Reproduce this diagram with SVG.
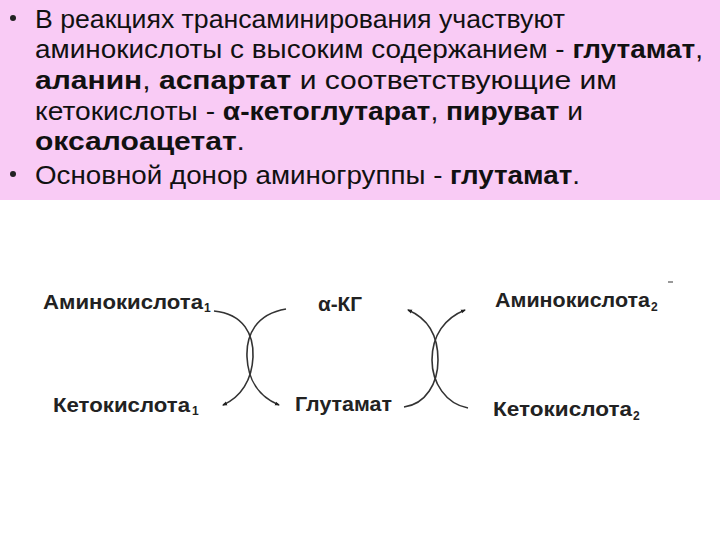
<svg xmlns="http://www.w3.org/2000/svg" width="720" height="540" viewBox="0 0 720 540">
<style>
.t{font-family:"Liberation Sans",Arial,sans-serif;font-size:26px;fill:#111}
.b{font-weight:bold}
.l{font-family:"Liberation Sans",Arial,sans-serif;font-size:21px;font-weight:bold;fill:#222}
.s{font-family:"Liberation Sans",Arial,sans-serif;font-size:12px;font-weight:bold;fill:#222}
.c{fill:none;stroke:#333;stroke-width:1.6}
</style>
<defs>
<marker id="ah" viewBox="0 0 10 10" refX="8" refY="5" markerWidth="5" markerHeight="5" orient="auto" markerUnits="userSpaceOnUse">
<path d="M0,1 L10,5 L0,9 Z" fill="#222"/>
</marker>
</defs>
<rect width="720" height="540" fill="#ffffff"/>
<g id="textbox">
<rect x="0" y="0" width="720" height="200" fill="#F9CBF5"/>
<circle cx="13" cy="18" r="3" fill="#222"/>
<text class="t" x="35" y="28" textLength="530" lengthAdjust="spacingAndGlyphs">В реакциях трансаминирования участвуют</text>
<text class="t" x="35" y="58" textLength="668" lengthAdjust="spacingAndGlyphs">аминокислоты с высоким содержанием - <tspan class="b">глутамат</tspan>,</text>
<text class="t" x="35" y="89" textLength="582" lengthAdjust="spacingAndGlyphs"><tspan class="b">аланин</tspan>, <tspan class="b">аспартат</tspan> и соответствующие им</text>
<text class="t" x="35" y="120" textLength="548" lengthAdjust="spacingAndGlyphs">кетокислоты - <tspan class="b">α-кетоглутарат</tspan>, <tspan class="b">пируват</tspan> и</text>
<text class="t" x="35" y="150" textLength="210" lengthAdjust="spacingAndGlyphs"><tspan class="b">оксалоацетат</tspan>.</text>
<circle cx="13" cy="174" r="3" fill="#222"/>
<text class="t" x="35" y="184" textLength="545" lengthAdjust="spacingAndGlyphs">Основной донор аминогруппы - <tspan class="b">глутамат</tspan>.</text>
</g>
<g id="amino1"><text class="l" x="43" y="309" textLength="160" lengthAdjust="spacingAndGlyphs">Аминокислота</text><text class="s" x="204" y="312">1</text></g>
<g id="akg"><text class="l" x="318" y="311" textLength="44" lengthAdjust="spacingAndGlyphs">α-КГ</text></g>
<g id="amino2"><text class="l" x="495" y="307" textLength="155" lengthAdjust="spacingAndGlyphs">Аминокислота</text><text class="s" x="651" y="311">2</text></g>
<g id="keto1"><text class="l" x="53" y="412" textLength="137" lengthAdjust="spacingAndGlyphs">Кетокислота</text><text class="s" x="192" y="415">1</text></g>
<g id="glu"><text class="l" x="295" y="411" textLength="97" lengthAdjust="spacingAndGlyphs">Глутамат</text></g>
<g id="keto2"><text class="l" x="493" y="416" textLength="139" lengthAdjust="spacingAndGlyphs">Кетокислота</text><text class="s" x="633" y="420">2</text></g>
<g id="connectors">
<path class="c" d="M214,311 C244,314 254,335 253,357 C252,380 241,397 223,405" marker-end="url(#ah)"/>
<path class="c" d="M286,309 C256,314 246,335 247,357 C248,380 259,397 279,405" marker-end="url(#ah)"/>
<path class="c" d="M404,407 C426,404 438,383 438,360 C438,335 427,318 408,310" marker-end="url(#ah)"/>
<path class="c" d="M468,408 C446,404 432,383 432,360 C432,335 445,318 465,310" marker-end="url(#ah)"/>
<line x1="668" y1="282" x2="673" y2="282" stroke="#555" stroke-width="1.2"/>
</g>
</svg>
